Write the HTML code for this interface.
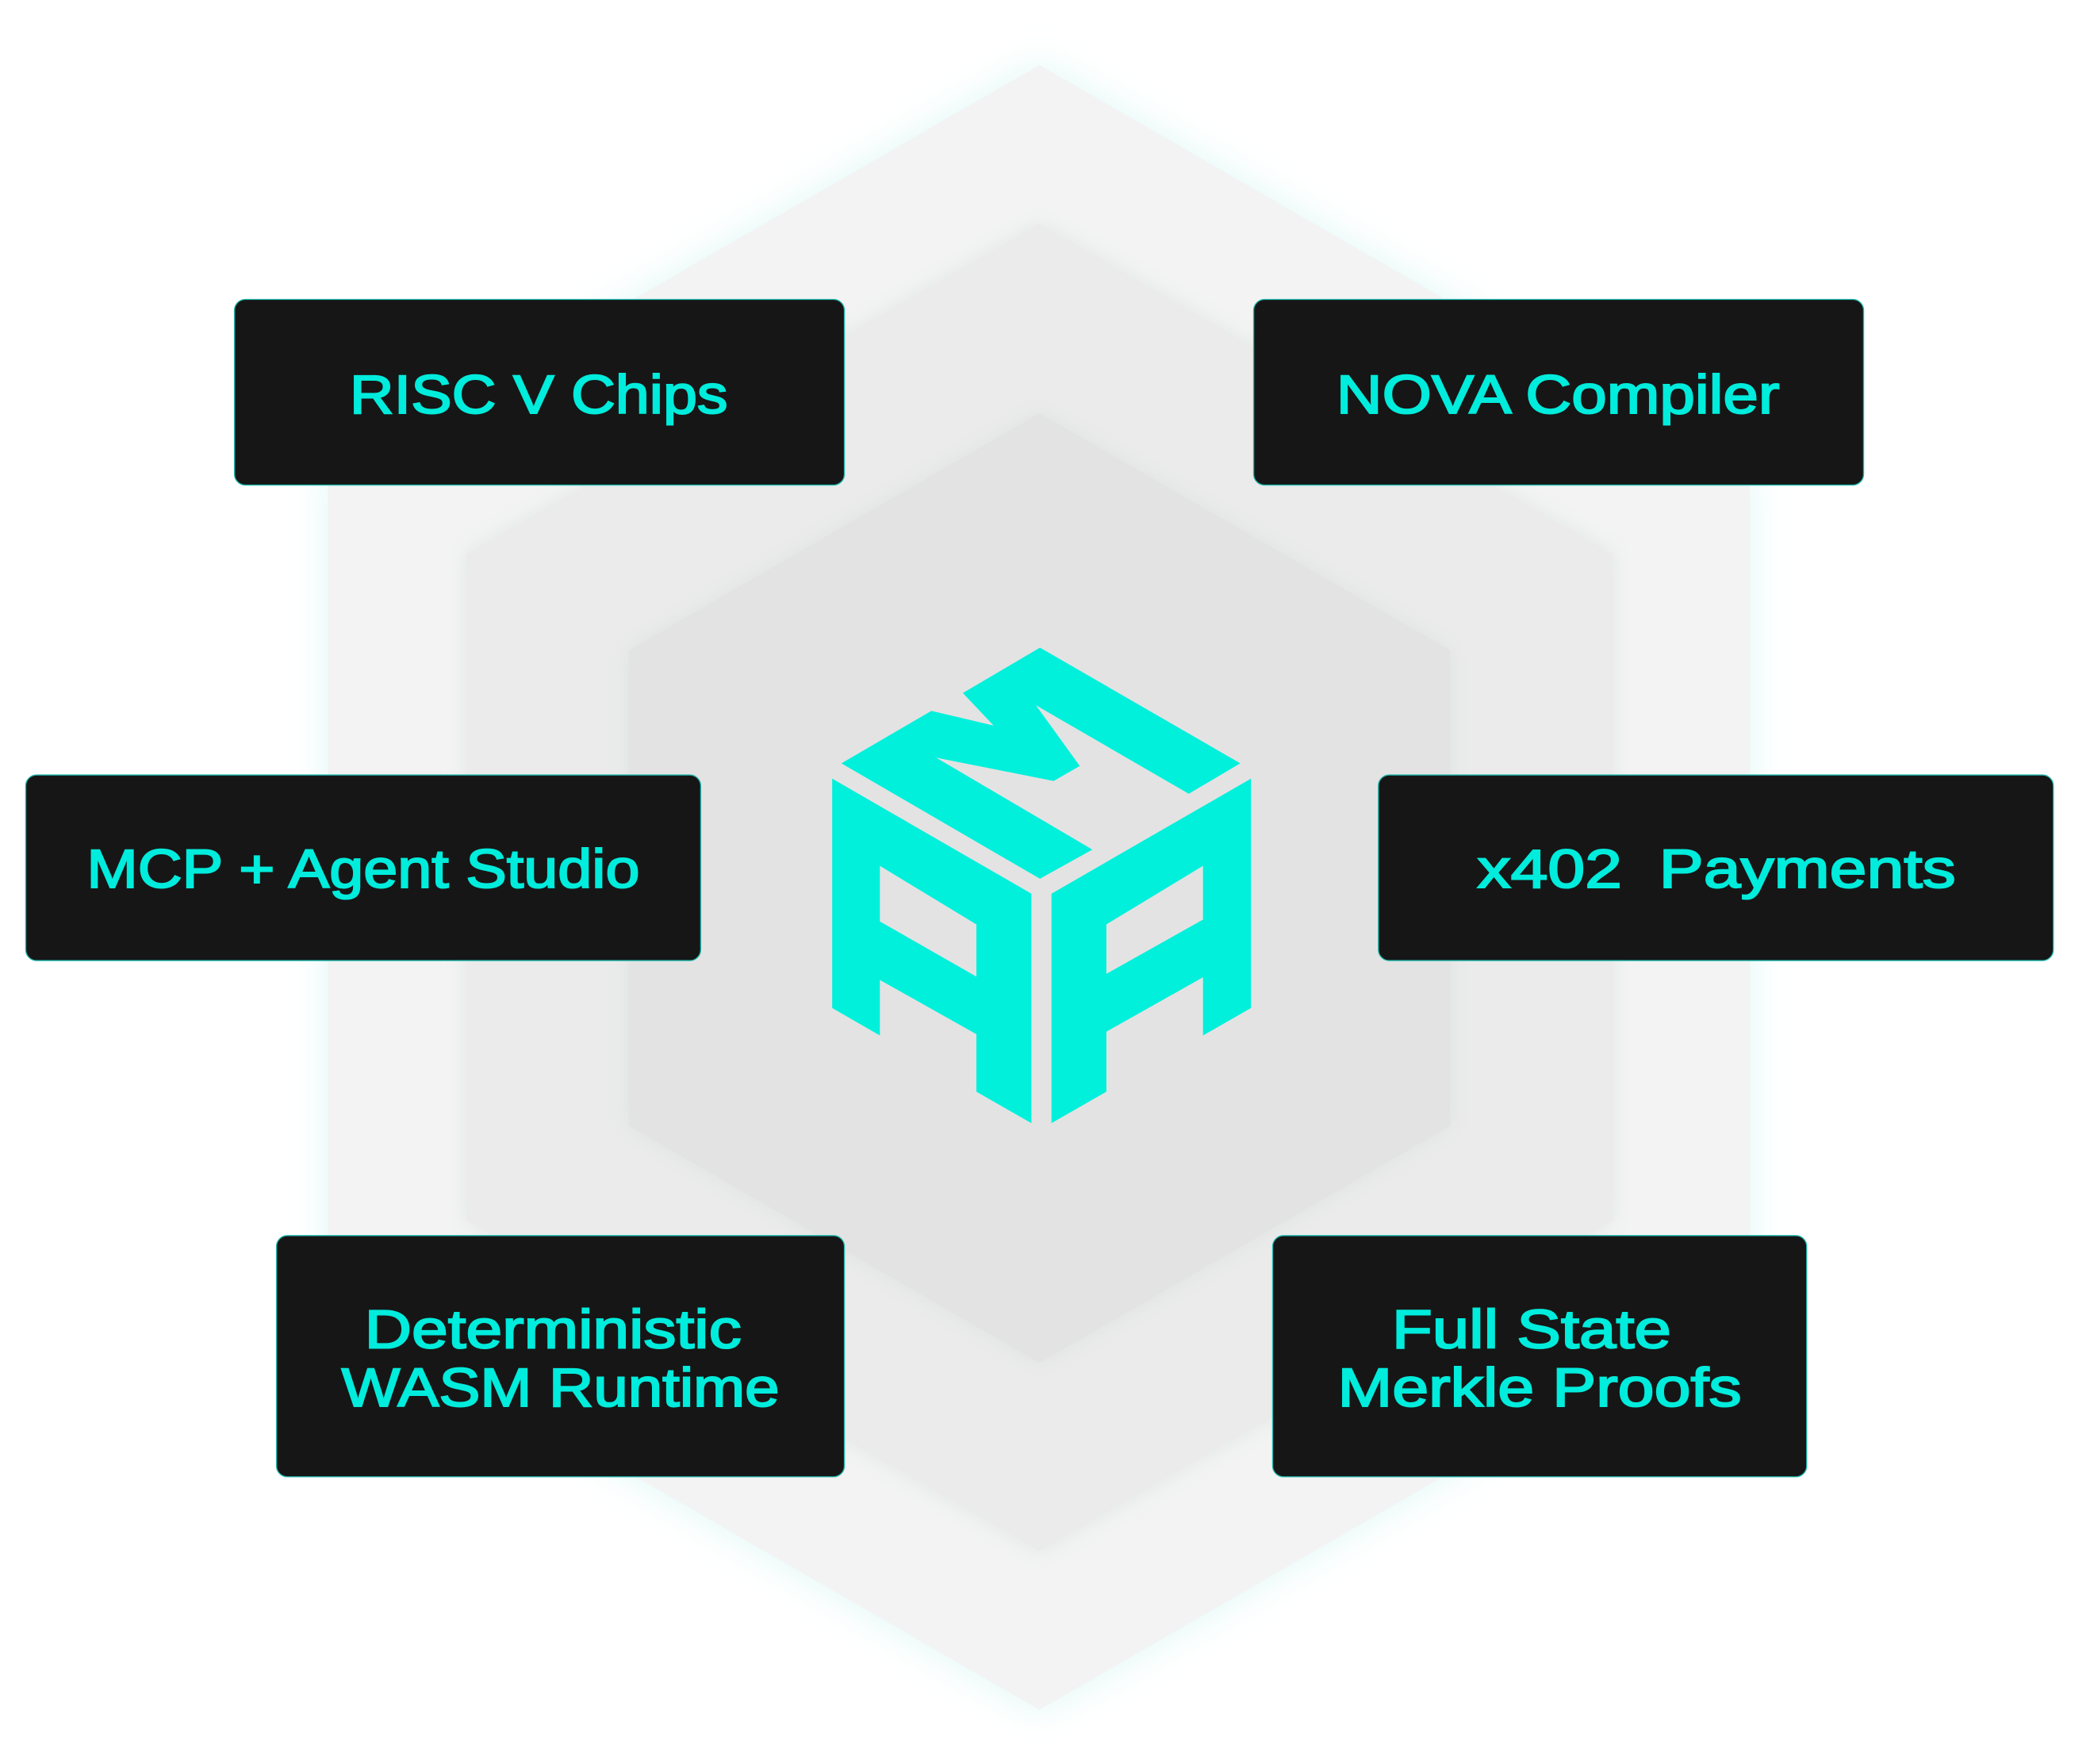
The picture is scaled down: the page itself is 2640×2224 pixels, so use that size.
<!DOCTYPE html>
<html><head><meta charset="utf-8"><style>html,body{margin:0;padding:0;background:#fff}svg{display:block}</style></head>
<body>
<svg width="2640" height="2224" viewBox="0 0 1545 1302" preserveAspectRatio="none" xmlns="http://www.w3.org/2000/svg">
<defs>
<filter id="g" x="-20%" y="-20%" width="140%" height="140%"><feGaussianBlur stdDeviation="14"/></filter>
<filter id="s" x="-20%" y="-20%" width="140%" height="140%"><feGaussianBlur stdDeviation="8"/></filter>
</defs>
<rect width="1545" height="1302" fill="#ffffff"/>
<polygon points="767,48 1291,351 1291,959 767,1262 242,959 242,351" fill="#dff8f6" filter="url(#g)"/>
<polygon points="767,48 1291,351 1291,959 767,1262 242,959 242,351" fill="#f3f3f3"/>
<polygon points="767,165 1190,409 1190,901 767,1145 344,901 344,409" fill="#e2e8e8" filter="url(#s)"/>
<polygon points="767,165 1190,409 1190,901 767,1145 344,901 344,409" fill="#ebebeb"/>
<polygon points="767,305 1070,480 1070,831 767,1006 464,831 464,480" fill="#dfe2e2" filter="url(#s)"/>
<polygon points="767,305 1070,480 1070,831 767,1006 464,831 464,480" fill="#e3e3e3"/>
<g fill="#00f0dc">
<polygon points="767.3,478 915.1,563.4 877.1,585.9 764.3,520.5 796.7,565.4 777.4,576.4 690.7,559.2 806,627.1 767.3,648.6 620.8,563.4 687.2,524.7 733.1,535.5 710.4,511.5"/>
<path fill-rule="evenodd" d="M614,574.7 L761,659.6 L761,829 L720.4,805.8 L720.4,763.3 L649.2,723.3 L649.2,764.3 L614,744 Z M649.2,639.1 L720.4,682.3 L720.4,720.8 L649.2,680.1 Z"/>
<path fill-rule="evenodd" d="M923,574.7 L775.8,659.6 L775.8,829 L816.3,805.8 L816.3,761.5 L887.6,721.3 L887.6,764.3 L923,744 Z M887.6,639.1 L816.3,682.3 L816.3,718.8 L887.6,678.7 Z"/>
</g>
<g fill="#161616" stroke="#1fb9ad" stroke-width="0.8">
<rect x="173" y="221" width="450" height="137" rx="8"/>
<rect x="925" y="221" width="450" height="137" rx="8"/>
<rect x="19" y="572" width="498" height="137" rx="8"/>
<rect x="1017" y="572" width="498" height="137" rx="8"/>
<rect x="204" y="912" width="419" height="178" rx="8"/>
<rect x="939" y="912" width="394" height="178" rx="8"/>
</g>
<g fill="#00ecdc" stroke="#00ecdc" stroke-width="1.2" font-family="Liberation Sans, sans-serif" font-size="40">
<text x="258" y="305" textLength="279" lengthAdjust="spacingAndGlyphs">RISC V Chips</text>
<text x="986" y="305" textLength="327" lengthAdjust="spacingAndGlyphs">NOVA Compiler</text>
<text x="64" y="655" textLength="408" lengthAdjust="spacingAndGlyphs">MCP + Agent Studio</text>
<text x="1090" y="655" textLength="353" lengthAdjust="spacingAndGlyphs" xml:space="preserve">x402  Payments</text>
<text x="269" y="995" textLength="278" lengthAdjust="spacingAndGlyphs">Deterministic</text>
<text x="252" y="1038" textLength="323" lengthAdjust="spacingAndGlyphs">WASM Runtime</text>
<text x="1027" y="995" textLength="206" lengthAdjust="spacingAndGlyphs">Full State</text>
<text x="987" y="1038" textLength="298" lengthAdjust="spacingAndGlyphs">Merkle Proofs</text>
</g>
</svg>
</body></html>
